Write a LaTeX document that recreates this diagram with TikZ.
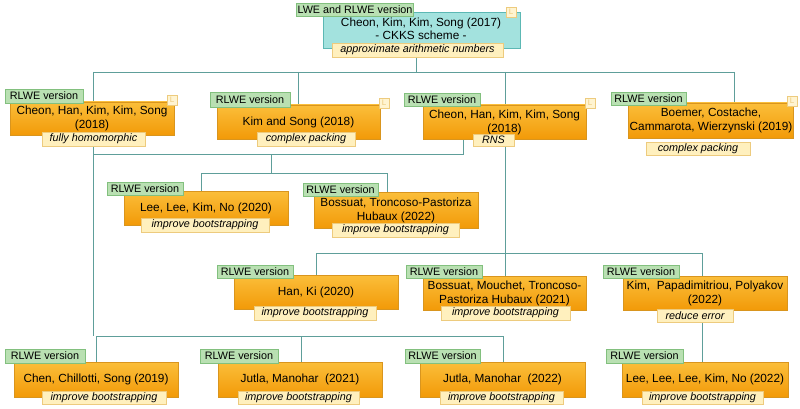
\documentclass[tikz,border=0pt]{standalone}
\usepackage{fontspec}
\setmainfont{Liberation Sans}
\usetikzlibrary{backgrounds}
\definecolor{orA}{HTML}{FBBE3A}\definecolor{orB}{HTML}{F29A08}\definecolor{orE}{HTML}{D9951E}
\definecolor{tagF}{HTML}{B9E0B2}\definecolor{tagE}{HTML}{82C07E}
\definecolor{labF}{HTML}{FFF0BE}\definecolor{labE}{HTML}{EDCB7E}
\definecolor{cyF}{HTML}{A3E2DE}\definecolor{cyE}{HTML}{5CB8B4}
\definecolor{conn}{HTML}{5E9E9A}
\tikzset{
 box/.style={draw=orE,top color=orA,bottom color=orB,align=center,inner sep=1pt,font=\fontsize{11.8}{14}\selectfont},
 topbox/.style={draw=cyE,fill=cyF,align=center,inner sep=1pt,font=\fontsize{11.8}{12.5}\selectfont},
 toptext/.style={align=center,inner sep=0pt,font=\fontsize{11.8}{12.5}\selectfont},
 tag/.style={draw=tagE,fill=tagF,inner sep=1pt,font=\fontsize{10.8}{12}\selectfont},
 lab/.style={draw=labE,fill=labF,inner sep=1pt,font=\fontsize{10.8}{12}\selectfont\itshape},
 ico/.style={draw=labE,fill=labF!70!white,minimum size=10pt,inner sep=0pt,text=labE,font=\fontsize{8}{8}\selectfont},
 con/.style={draw=conn,line width=0.9pt}
}
\newcommand{\bx}[7]{\node[#6,minimum width={#4-#2},minimum height={#5-#3}] (#1) at ({(#2+#4)/2},{(#3+#5)/2}) {#7};}
\newcommand{\tg}[6]{\node[tag,minimum width={#4-#2},minimum height={#5-#3}] (#1) at ({(#2+#4)/2},{(#3+#5)/2}) {#6};}
\newcommand{\lb}[6]{\node[lab,minimum width={#4-#2},minimum height={#5-#3}] (#1) at ({(#2+#4)/2},{(#3+#5)/2}) {#6};}
\begin{document}
\begin{tikzpicture}[x=1pt,y=-1pt]
\useasboundingbox (0,0) rectangle (800,409);
\bx{top}{323}{12}{520}{48}{topbox}{}
\node[toptext] (toptx) at (421,29) {Cheon, Kim, Kim, Song (2017)\\- CKKS scheme -};
\tg{topt}{310}{3}{400}{16}{LWE and RLWE version}
\lb{topl}{332}{43}{503}{57}{approximate arithmetic numbers}
\node[ico] (topi) at (511,12) {L};

\bx{a}{10}{102}{174}{135}{box}{Cheon, Han, Kim, Kim, Song\\(2018)}
\tg{at}{5}{89}{83}{103}{RLWE version}
\lb{al}{42}{132}{145}{146}{fully homomorphic}
\node[ico] (ai) at (172,100) {L};

\bx{b}{217}{105}{380}{139}{box}{Kim and Song (2018)}
\tg{bt}{210}{92}{290}{107}{RLWE version}
\lb{bl}{257}{132}{355}{146}{complex packing}
\node[ico] (bi) at (384,103) {L};

\bx{c}{423}{105}{586}{139}{box}{Cheon, Han, Kim, Kim, Song\\(2018)}
\tg{ct}{404}{93}{480}{106}{RLWE version}
\lb{cl}{473}{134}{514}{146}{RNS}
\node[ico] (ci) at (590,103) {L};

\bx{d}{630}{103}{792}{138}{box}{Boemer, Costache,\\Cammarota, Wierzynski (2019)}
\tg{dt}{611}{92}{686}{105}{RLWE version}
\lb{dl}{646}{142}{750}{155}{complex packing}
\node[ico] (di) at (792,101) {L};

\bx{e}{124}{191}{288}{225}{box}{Lee, Lee, Kim, No (2020)}
\tg{et}{107}{182}{183}{195}{RLWE version}
\lb{el}{141}{218}{269}{232}{improve bootstrapping}

\bx{f}{314}{192}{478}{228}{box}{Bossuat, Troncoso-Pastoriza\\Hubaux (2022)}
\tg{ft}{303}{183}{378}{196}{RLWE version}
\lb{fl}{332}{223}{459}{237}{improve bootstrapping}

\bx{g}{234}{275}{398}{309}{box}{Han, Ki (2020)}
\tg{gt}{217}{265}{293}{278}{RLWE version}
\lb{gl}{254}{306}{376}{320}{improve bootstrapping}

\bx{h}{423}{276}{586}{310}{box}{Bossuat, Mouchet, Troncoso-\\Pastoriza Hubaux (2021)}
\tg{ht}{406}{265}{482}{278}{RLWE version}
\lb{hl}{441}{306}{570}{320}{improve bootstrapping}

\bx{i}{623}{276}{787}{310}{box}{Kim,\ \ Papadimitriou, Polyakov\\(2022)}
\tg{it}{603}{265}{679}{278}{RLWE version}
\lb{il}{657}{309}{733}{322}{reduce error}

\bx{j}{14}{362}{178}{397}{box}{Chen, Chillotti, Song (2019)}
\tg{jt}{5}{349}{85}{363}{RLWE version}
\lb{jl}{42}{391}{166}{404}{improve bootstrapping}

\bx{k}{218}{362}{382}{397}{box}{Jutla, Manohar\ \ (2021)}
\tg{kt}{200}{349}{278}{363}{RLWE version}
\lb{kl}{238}{391}{359}{404}{improve bootstrapping}

\bx{l}{420}{362}{585}{397}{box}{Jutla, Manohar\ \ (2022)}
\tg{lt}{405}{349}{480}{363}{RLWE version}
\lb{ll}{440}{391}{563}{404}{improve bootstrapping}

\bx{m}{622}{362}{788}{397}{box}{Lee, Lee, Lee, Kim, No (2022)}
\tg{mt}{606}{349}{683}{363}{RLWE version}
\lb{ml}{642}{391}{763}{404}{improve bootstrapping}

\begin{scope}[on background layer]
\coordinate (r1) at (416,72);
\draw[con] (topl.south -| r1) -- (r1);
\draw[con] (93,72) -- (734,72);
\draw[con] (734,72) -- (734,103);
\draw[con] (298,72) -- (298,105);
\draw[con] (505,72) -- (505,253);
\draw[con] (93,72) -- (93,336);
\draw[con] (93,154) -- (463,154) -- (463,139);
\draw[con] (271,154) -- (271,173);
\draw[con] (201,191) -- (201,173) -- (387,173) -- (387,192);
\draw[con] (316,275) -- (316,253) -- (702,253) -- (702,276);
\draw[con] (505,253) -- (505,276);
\draw[con] (96,362) -- (96,336) -- (503,336) -- (503,362);
\draw[con] (301,336) -- (301,362);
\draw[con] (702,322) -- (702,362);
\end{scope}
\end{tikzpicture}
\end{document}
